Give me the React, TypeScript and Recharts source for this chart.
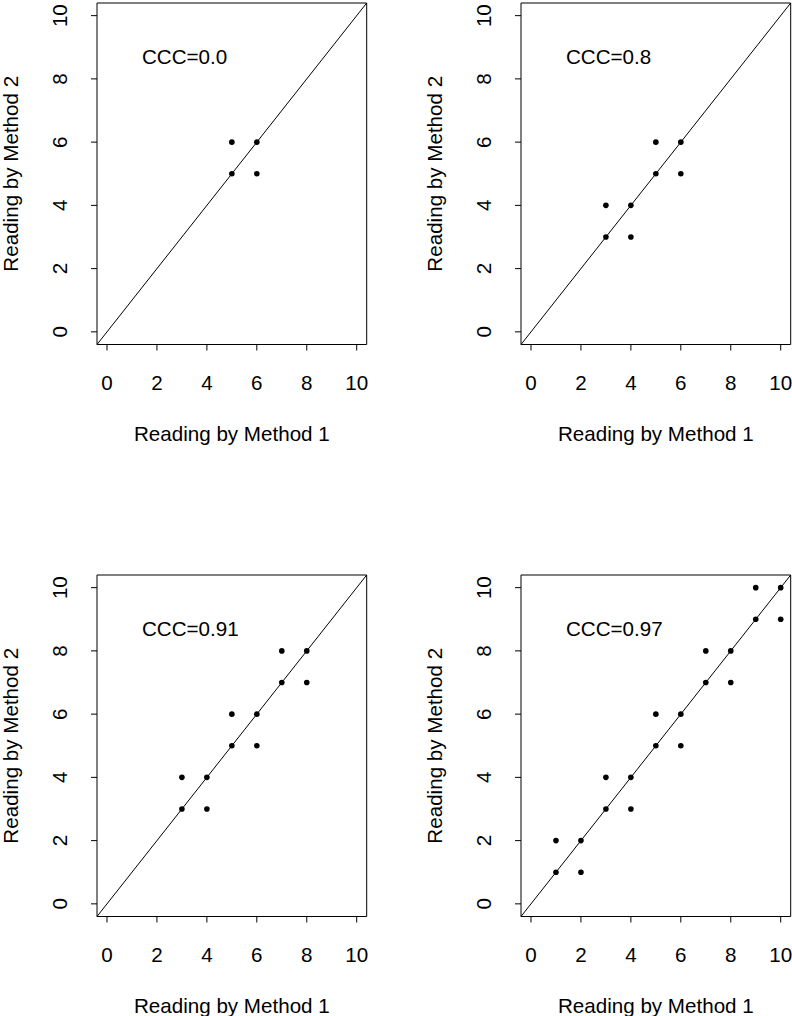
import React from "react";
import {
  ScatterChart,
  Scatter,
  XAxis,
  YAxis,
  ReferenceArea,
  ReferenceLine,
  ReferenceDot,
} from "recharts";

// readings for each of the four panels
const method1A = [5, 5, 6, 6];
const method2A = [5, 6, 5, 6];

const method1B = [3, 3, 4, 4, 5, 5, 6, 6];
const method2B = [3, 4, 3, 4, 5, 6, 5, 6];

const method1C = [3, 3, 4, 4, 5, 5, 6, 6, 7, 7, 8, 8];
const method2C = [3, 4, 3, 4, 5, 6, 5, 6, 7, 8, 7, 8];

const method1D = [1, 1, 2, 2, 3, 3, 4, 4, 5, 5, 6, 6, 7, 7, 8, 8, 9, 9, 10, 10];
const method2D = [1, 2, 1, 2, 3, 4, 3, 4, 5, 6, 5, 6, 7, 8, 7, 8, 9, 10, 9, 10];

const cccLabels = ["CCC=0.0", "CCC=0.8", "CCC=0.91", "CCC=0.97"];
const axisTicks = [0, 2, 4, 6, 8, 10];

const xTitle = "Reading by Method 1";
const yTitle = "Reading by Method 2";

const LO = -0.4;
const HI = 10.4;
const FS = 20.6;

const toPoints = (xs: number[], ys: number[]) =>
  xs.map((x, i) => ({ x, y: ys[i] }));

const Dot = (props: any) => (
  <circle cx={props.cx} cy={props.cy} r={2.8} fill="#000" />
);

const YTick = (props: any) => {
  const { x, y, payload } = props;
  return (
    <text
      x={x}
      y={y}
      transform={`rotate(-90 ${x} ${y})`}
      textAnchor="middle"
      fontSize={FS}
      fill="#000"
    >
      {payload.value}
    </text>
  );
};

const Note = (text: string) => (props: any) => (
  <text x={props.cx} y={props.cy} dy="0.355em" fontSize={FS} fill="#000">
    {text}
  </text>
);

type PanelProps = {
  xs: number[];
  ys: number[];
  note: string;
  left: number;
  top: number;
};

function Panel({ xs, ys, note, left, top }: PanelProps) {
  const data = toPoints(xs, ys);
  return (
    <div style={{ position: "absolute", left, top }}>
      <ScatterChart
        width={368}
        height={445}
        margin={{ top: 3, right: 1.3, bottom: 0, left: 0 }}
      >
        <XAxis
          type="number"
          dataKey="x"
          domain={[LO, HI]}
          ticks={axisTicks}
          interval={0}
          allowDataOverflow
          axisLine={false}
          tickLine={{ stroke: "#000" }}
          tickSize={6}
          tickMargin={25}
          tick={{ fill: "#000", fontSize: FS }}
          height={100.5}
          label={{
            value: xTitle,
            position: "insideBottom",
            offset: 4.5,
            fill: "#000",
            fontSize: FS,
          }}
        />
        <YAxis
          type="number"
          dataKey="y"
          domain={[LO, HI]}
          ticks={axisTicks}
          interval={0}
          allowDataOverflow
          axisLine={false}
          tickLine={{ stroke: "#000" }}
          tickSize={6}
          tickMargin={24.3}
          tick={<YTick />}
          width={97}
          label={{
            value: yTitle,
            angle: -90,
            position: "insideLeft",
            offset: 10.3,
            fill: "#000",
            fontSize: FS,
            style: { textAnchor: "middle" },
          }}
        />
        <ReferenceArea
          x1={LO}
          x2={HI}
          y1={LO}
          y2={HI}
          fill="none"
          stroke="#000"
          strokeWidth={1}
          ifOverflow="visible"
        />
        <ReferenceLine
          segment={[
            { x: LO, y: LO },
            { x: HI, y: HI },
          ]}
          stroke="#000"
          strokeWidth={1}
          ifOverflow="visible"
        />
        <ReferenceDot x={1.4} y={8.7} r={0} shape={Note(note)} ifOverflow="visible" />
        <Scatter data={data} shape={<Dot />} isAnimationActive={false} />
      </ScatterChart>
    </div>
  );
}

export default function App() {
  return (
    <div
      style={{
        position: "absolute",
        left: 0,
        top: 0,
        width: 792,
        height: 1016,
        background: "#fff",
        fontFamily: "'Liberation Sans', Arial, Helvetica, sans-serif",
        overflow: "hidden",
      }}
    >
      <Panel xs={method1A} ys={method2A} note={cccLabels[0]} left={0} top={0} />
      <Panel xs={method1B} ys={method2B} note={cccLabels[1]} left={424.3} top={0} />
      <Panel xs={method1C} ys={method2C} note={cccLabels[2]} left={0} top={571.7} />
      <Panel xs={method1D} ys={method2D} note={cccLabels[3]} left={424.3} top={571.7} />
    </div>
  );
}
